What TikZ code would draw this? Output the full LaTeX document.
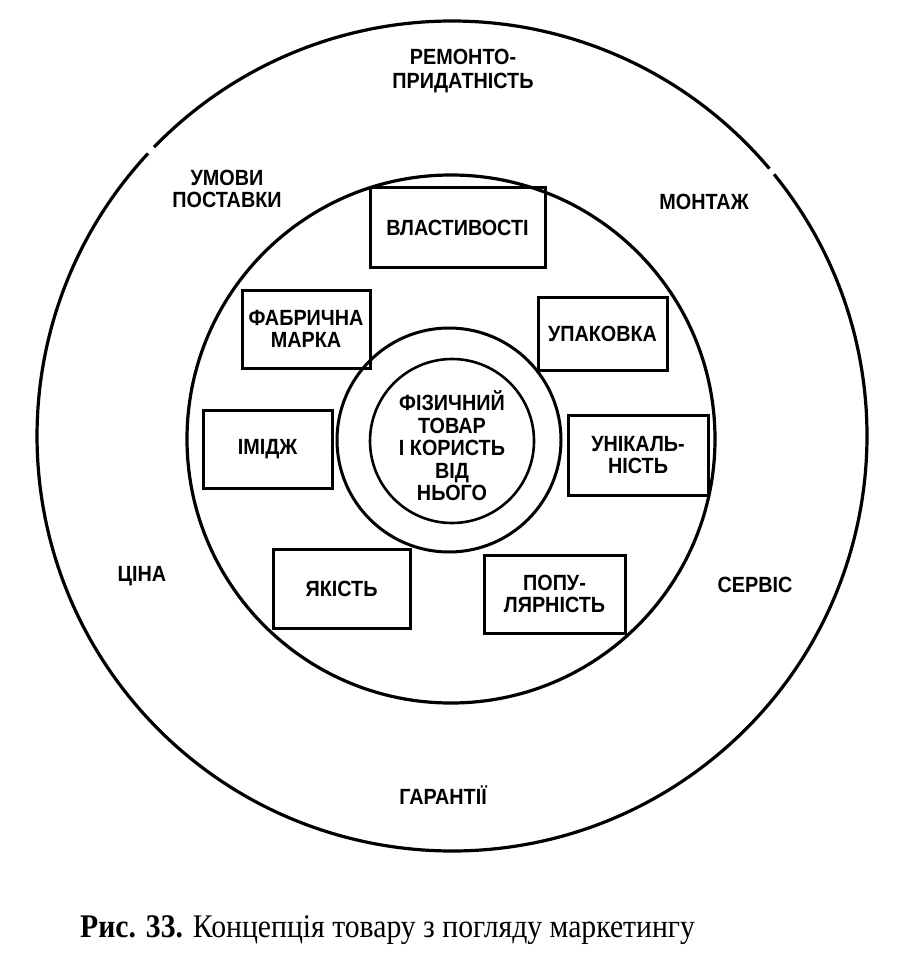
\documentclass[tikz,border=0pt]{standalone}
\usepackage{fontspec}
\setmainfont{Liberation Serif}
\newfontfamily\labfont[FakeStretch=0.9]{Liberation Sans}
\newfontfamily\capfont[FakeStretch=0.9]{Liberation Serif}
\begin{document}
\begin{tikzpicture}[x=1pt,y=-1pt,
  lbl/.style={font=\labfont\bfseries\fontsize{22}{22.5}\selectfont, align=center, inner sep=0pt},
  boxnode/.style={draw, line width=3pt, inner sep=0pt, font=\labfont\bfseries\fontsize{22}{22.5}\selectfont, align=center},
  ringline/.style={line width=3pt},
  outerline/.style={line width=3.2pt}]
\useasboundingbox (0,0) rectangle (901,973);
% outer circle (two arcs, small gaps as in the print)
\coordinate (oc) at (452,436);
\draw[outerline] (oc) ++(224.1:415) arc[start angle=224.1, end angle=319.9, radius=415];
\draw[outerline] (oc) ++(320.9:415) arc[start angle=320.9, end angle=582.9, radius=415];
% middle circle
\node[draw, circle, ringline, line width=3.2pt, minimum size=528pt, inner sep=0pt] (mid) at (451,439) {};
% ring around the core
\node[draw, circle, ringline, minimum size=224pt, inner sep=0pt] (ring) at (449,440) {};
% core
\node[draw, circle, line width=2.6pt, minimum size=164pt, inner sep=0pt] (core) at (452,441) {};
\node[lbl] (coretext) at (452,446) {ФІЗИЧНИЙ\\ТОВАР\\І КОРИСТЬ\\ВІД\\НЬОГО};
% boxes
\node[boxnode, minimum width=175pt, minimum height=80pt] (vlast) at (457.5,228) {ВЛАСТИВОСТІ};
\node[boxnode, minimum width=128pt, minimum height=78pt] (marka) at (306,329) {ФАБРИЧНА\\МАРКА};
\node[boxnode, minimum width=129pt, minimum height=73pt] (upak) at (602.5,333.5) {УПАКОВКА};
\node[boxnode, minimum width=129pt, minimum height=78pt] (imidzh) at (267.5,449) {ІМІДЖ};
\node[boxnode, minimum width=140pt, minimum height=80pt] (unik) at (638,455) {УНІКАЛЬ-\\НІСТЬ};
\node[boxnode, minimum width=137pt, minimum height=79pt] (yakist) at (341.5,588.5) {ЯКІСТЬ};
\node[boxnode, minimum width=141pt, minimum height=78pt] (popul) at (554.5,594) {ПОПУ-\\ЛЯРНІСТЬ};
% outer labels
\node[lbl, font=\labfont\bfseries\fontsize{22}{24}\selectfont] (remont) at (463,71) {РЕМОНТО-\\ПРИДАТНІСТЬ};
\node[lbl] (umovy) at (227,189) {УМОВИ\\ПОСТАВКИ};
\node[lbl] (montazh) at (704,202) {МОНТАЖ};
\node[lbl] (tsina) at (142,576) {ЦІНА};
\node[lbl] (servis) at (755,585) {СЕРВІС};
\node[lbl] (garant) at (443,795) {ГАРАНТІЇ};
% caption
\node[anchor=base west, inner sep=0pt, font=\capfont\fontsize{33}{36}\selectfont] (cap) at (80,937)
  {\textbf{Рис. 33.} Концепція товару з погляду маркетингу};
\end{tikzpicture}
\end{document}
